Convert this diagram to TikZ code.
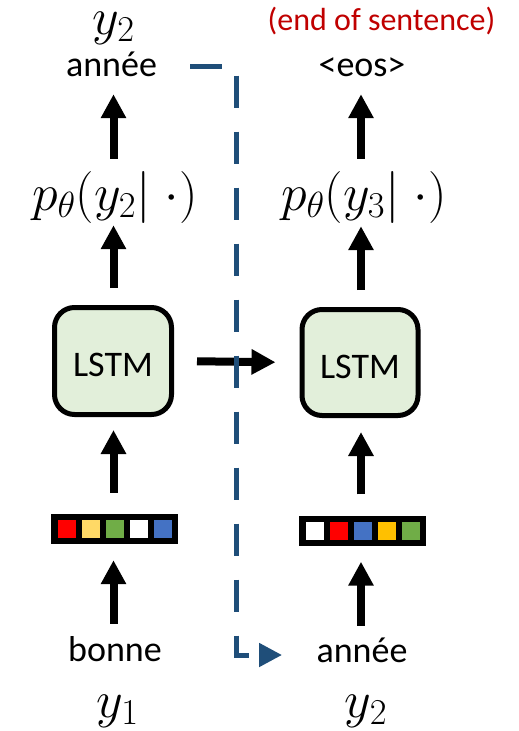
\RequirePackage{fix-cm}
\documentclass[tikz,border=0pt]{standalone}
\usepackage{fontspec}
\setmainfont{Carlito}
\usetikzlibrary{arrows.meta}
\definecolor{lstmfill}{HTML}{E2EFDA}
\definecolor{dashblue}{HTML}{1F4E79}
\definecolor{eosred}{HTML}{C00000}
\definecolor{cred}{HTML}{FF0000}
\definecolor{cyellow}{HTML}{FFD966}
\definecolor{cgreen}{HTML}{70AD47}
\definecolor{cblue}{HTML}{4472C4}
\definecolor{corange}{HTML}{FFC000}
\begin{document}
\begin{tikzpicture}[x=1pt,y=-1pt,
  word/.style={inner sep=0pt, anchor=base, font=\fontsize{36}{40}\selectfont, text height=26pt, text depth=0pt},
  mathlbl/.style={inner sep=2pt, anchor=base, font=\fontsize{52}{56}\selectfont},
  prob/.style={mathlbl, inner sep=0pt, text height=40pt, text depth=14pt},
  lstm/.style={draw=black, line width=5pt, rounded corners=20pt, fill=lstmfill, inner sep=0pt,
    font=\fontsize{36}{40}\selectfont, text height=31pt, text depth=0pt},
  emb/.style={fill=black, minimum width=127pt, minimum height=30pt, inner sep=0pt},
  arr/.style={line width=8pt, -{Triangle[length=24pt,width=24pt]}},
  dashline/.style={draw=dashblue, line width=5pt, dash pattern=on 32pt off 24pt, -{Triangle[length=23pt,width=23pt]}}
]
\useasboundingbox (0,0) rectangle (519,731);
\coordinate (colL) at (113.5,0);
\coordinate (colR) at (361,0);

% left column
\node[mathlbl] (yTop) at (113.5,34) {$y_2$};
\node[word] (aL) at (111.5,76) {année};
\node[prob] (pL) at (115,210) {$p_\theta(y_2|\;\cdot)$};
\node[lstm, minimum width=117pt, minimum height=107pt] (lstmL) at (113,361) {LSTM};
\node[emb] (embL) at (114.5,529) {};
\node[word] (bonne) at (115,661) {bonne};
\node[mathlbl] (y1) at (117.5,717) {$y_1$};

% right column
\node[word, font=\fontsize{32}{36}\selectfont, text=eosred] (eosnote) at (381.5,30) {(end of sentence)};
\node[word] (eos) at (362,76) {<eos>};
\node[prob] (pR) at (364,210) {$p_\theta(y_3|\;\cdot)$};
\node[lstm, minimum width=116pt, minimum height=106pt] (lstmR) at (360,362.5) {LSTM};
\node[emb] (embR) at (362.5,530.5) {};
\node[word] (aR) at (362,662) {année};
\node[mathlbl] (y2b) at (366,717) {$y_2$};

% embedding squares
\foreach \c [count=\i] in {cred,cyellow,cgreen,white,cblue}
  \fill[\c] ([xshift=(\i-3)*24pt]embL.center) ++(-9,-9) rectangle ++(18,18);
\foreach \c [count=\i] in {white,cred,cblue,corange,cgreen}
  \fill[\c] ([xshift=(\i-3)*24pt]embR.center) ++(-9,-9) rectangle ++(18,18);

% vertical arrows, left
\draw[arr, shorten <=11pt, shorten >=18pt] (pL.north -| colL) -- (aL.south -| colL);
\draw[arr, shorten <=17pt, shorten >=1pt] (lstmL.north -| colL) -- (pL.south -| colL);
\draw[arr, shorten <=21pt, shorten >=13pt] (embL.north -| colL) -- (lstmL.south -| colL);
\draw[arr, shorten <=11pt, shorten >=16pt] (bonne.north -| colL) -- (embL.south -| colL);

% vertical arrows, right
\draw[arr, shorten <=11pt, shorten >=18pt] (pR.north -| colR) -- (eos.south -| colR);
\draw[arr, shorten <=17pt, shorten >=2pt] (lstmR.north -| colR) -- (pR.south -| colR);
\draw[arr, shorten <=21pt, shorten >=14pt] (embR.north -| colR) -- (lstmR.south -| colR);
\draw[arr, shorten <=10pt, shorten >=16pt] (aR.north -| colR) -- (embR.south -| colR);

% recurrent arrow
\draw[arr, shorten <=23pt, shorten >=24pt] (lstmL.east) -- (lstmR.west);

% dashed feedback
\coordinate (dStart) at (190,66);
\coordinate (dTurn) at (236.5,655);
\coordinate (dEnd) at (282,655);
\draw[dashline] (dStart) -| (dTurn) -- (dEnd);
\end{tikzpicture}
\end{document}
